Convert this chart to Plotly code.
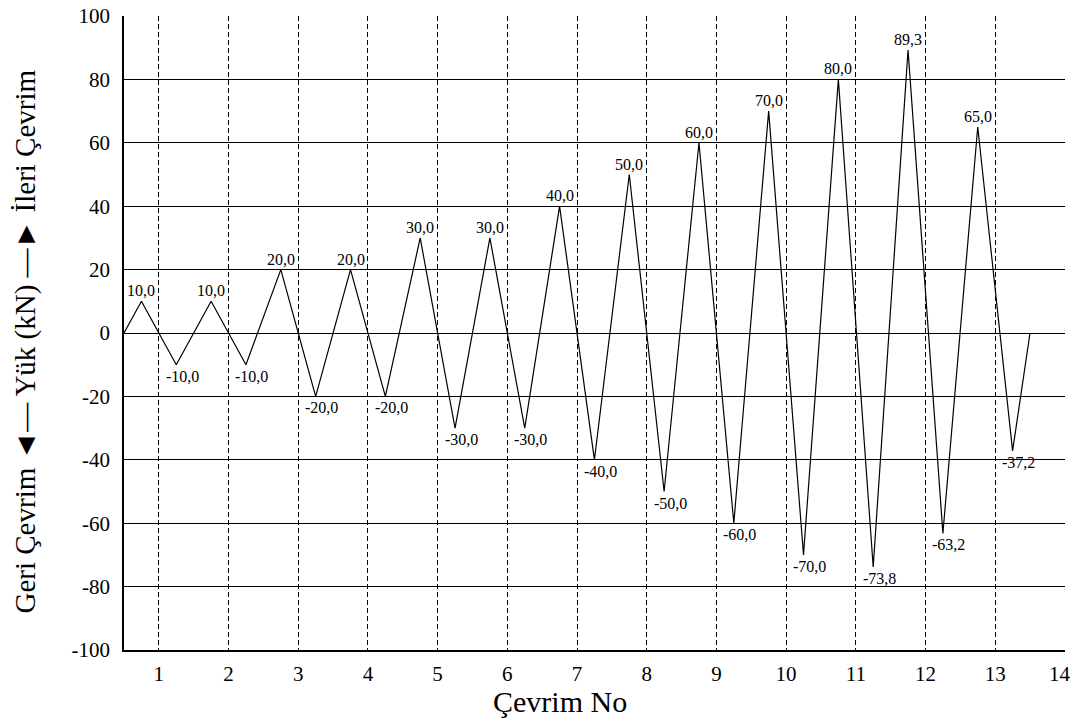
import plotly.graph_objects as go

cycle_x = [0.5, 0.75, 1.25, 1.75, 2.25, 2.75, 3.25, 3.75, 4.25, 4.75, 5.25, 5.75, 6.25,
           6.75, 7.25, 7.75, 8.25, 8.75, 9.25, 9.75, 10.25, 10.75, 11.25, 11.75, 12.25,
           12.75, 13.25, 13.5]
load_kn = [0, 10.0, -10.0, 10.0, -10.0, 20.0, -20.0, 20.0, -20.0, 30.0, -30.0, 30.0, -30.0,
           40.0, -40.0, 50.0, -50.0, 60.0, -60.0, 70.0, -70.0, 80.0, -73.8, 89.3, -63.2,
           65.0, -37.2, 0]
x_ticks = list(range(1, 15))
x_tick_text = [str(v) for v in x_ticks]
x_tick_text[-1] = "14\u00a0\u00a0\u200b"
y_ticks = list(range(-100, 101, 20))
y_tick_text = [str(v) for v in y_ticks]

FONT = "Liberation Serif, Times New Roman, serif"

fig = go.Figure()
fig.add_trace(go.Scatter(x=cycle_x, y=load_kn, mode="lines",
                         line=dict(color="black", width=1.2), showlegend=False,
                         hoverinfo="skip"))

for xv, yv in zip(cycle_x, load_kn):
    if yv == 0:
        continue
    label = f"{yv:.1f}".replace(".", ",")
    if yv > 0:
        fig.add_annotation(x=xv, y=yv, text=label, showarrow=False,
                           xanchor="center", yanchor="bottom", yshift=0,
                           font=dict(family=FONT, size=16, color="black"))
    else:
        fig.add_annotation(x=xv, y=yv, text=label, showarrow=False,
                           xanchor="center", yanchor="top", xshift=6, yshift=-1,
                           font=dict(family=FONT, size=16, color="black"))

# axis titles (placed as paper annotations to match the original's offsets)
fig.add_annotation(xref="paper", yref="paper", x=0.4633, y=0, yshift=-51,
                   xanchor="center", yanchor="middle", showarrow=False,
                   text="Çevrim No", font=dict(family=FONT, size=30, color="black"))
fig.add_annotation(xref="paper", yref="paper", x=-0.1052, y=0.4866,
                   xanchor="center", yanchor="middle", showarrow=False, textangle=-90,
                   text="Geri Çevrim ◄— Yük (kN) —► İleri Çevrim",
                   font=dict(family=FONT, size=29, color="black"))

fig.update_layout(
    width=1064, height=710,
    margin=dict(l=116, r=7, t=8, b=68),
    paper_bgcolor="white", plot_bgcolor="white",
    font=dict(family=FONT, color="black"),
    xaxis=dict(range=[0.5, 14.002], tickvals=x_ticks, ticktext=x_tick_text, ticks="",
               showgrid=True, gridcolor="black", gridwidth=1, griddash="5px,3px",
               zeroline=False, showline=True, linecolor="black", linewidth=1.5,
               automargin=False,
               tickfont=dict(family=FONT, size=21, color="black"),
               ticklabelstandoff=4, ticklabeloverflow="allow"),
    yaxis=dict(range=[-100, 100], tickvals=y_ticks, ticktext=y_tick_text, ticks="",
               showgrid=True, gridcolor="black", gridwidth=1, zeroline=False,
               showline=True, linecolor="black", linewidth=1.5, automargin=False,
               tickfont=dict(family=FONT, size=21, color="black"),
               ticklabelstandoff=8, ticklabeloverflow="allow"),
)

fig.write_html("out.html")
